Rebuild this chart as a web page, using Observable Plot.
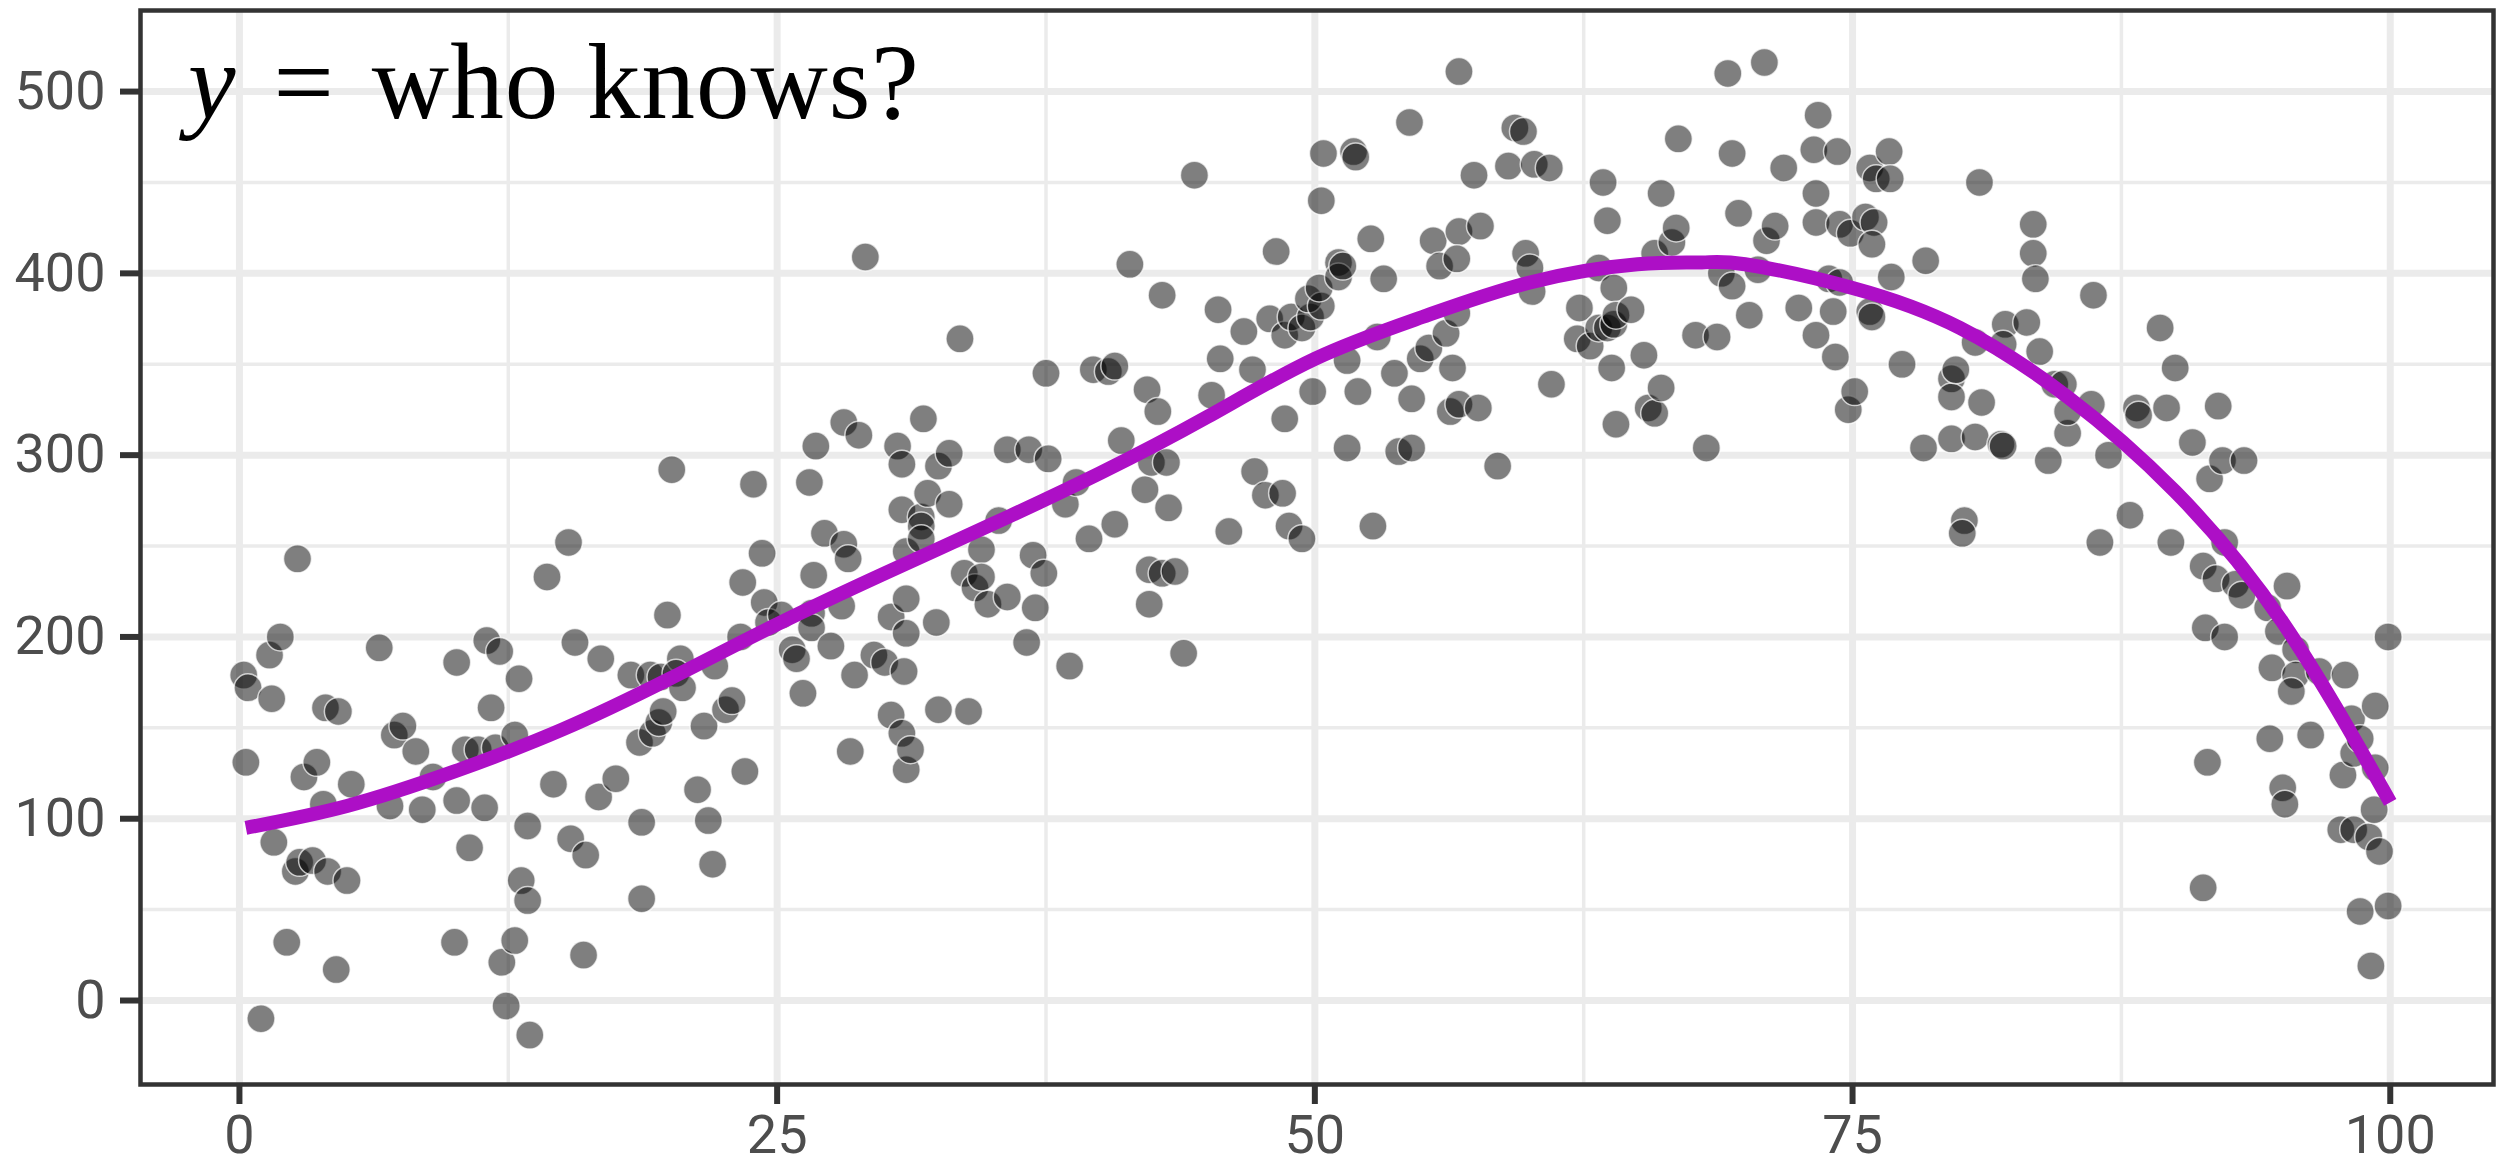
<!DOCTYPE html>
<html>
<head>
<meta charset="utf-8">
<script src="https://cdn.jsdelivr.net/npm/d3@7"></script>
<script src="https://cdn.jsdelivr.net/npm/@observablehq/plot@0.6"></script>
<style>
  html, body { margin: 0; padding: 0; background: white; }
</style>
</head>
<body>
<div id="chart"></div>
<script>
// Scatter of observations with a smoothed trend drawn over it.
const pointX = [
  0.2, 0.4, 0.3, 1, 1.4, 1.5, 1.6, 1.9, 2.2, 2.7, 3, 2.6, 2.8, 3.4, 3.6, 4, 3.9, 4.1, 4.5, 4.6,
  5, 5.2, 6.5, 7, 7.2, 7.6, 8.2, 8.5, 9, 10, 10.1, 10.1, 10.5, 10.7, 11.1, 11.5, 11.4, 11.7, 11.9, 12.1,
  12.2, 12.4, 12.8, 12.8, 13, 13.1, 13.4, 13.4, 13.5, 14.3, 14.6, 15.3, 15.4, 15.6, 16.1, 16, 16.7, 16.8, 17.5, 18.2,
  18.7, 18.7, 18.6, 19.1, 19.2, 19.5, 19.7, 19.6, 19.9, 20.1, 20.5, 20.3, 20.6, 21.3, 21.6, 21.8, 22, 22.1, 22.6, 22.9,
  23.4, 23.5, 23.3, 23.9, 24.3, 24.4, 24.6, 25.2,
  25.7, 25.9, 26.2, 26.7, 26.6, 26.5, 26.8, 26.6, 27.2, 27.5, 28.1, 28.1, 28.3, 28.4, 28, 28.6, 28.8, 29.1, 29.5, 30,
  30.3, 30.3, 30.6, 30.9, 30.8, 30.8, 30.8, 31, 31, 31.2, 31, 31, 31.7, 31.7, 31.8, 31.7, 32, 32.5, 32.4, 32.5,
  33, 33, 33.5, 33.7, 33.9, 34.2, 34.8, 34.5, 34.5, 35.3, 35.7, 35.7, 36.6, 36.7, 36.9, 37.4, 37, 37.5, 37.6, 38.4,
  38.6, 38.9, 39.5, 39.7, 40.4, 40.7, 40.7, 41, 41.4, 42.1, 42.2, 42.3, 42.3, 42.4, 42.7, 42.9, 42.9, 43.1, 43.2, 43.5,
  43.9, 44.4, 45.5, 45.2, 45.6, 46, 46.7, 47.2, 47.1, 47.9, 47.7, 48.2, 48.6, 48.5, 48.6, 48.9, 48.8, 49.4, 49.8, 49.4,
  49.7, 49.9, 50.3,
  50.4, 50.3, 50.2, 51.1, 51.1, 51.3, 51.5, 51.5, 51.8, 51.9, 52, 52.6, 52.7, 52.9, 53.2, 53.7, 53.9, 54.5, 54.4, 54.5,
  54.9, 55.3, 55.5, 55.8, 56.1, 56.4, 56.3, 56.7, 56.6, 56.7, 56.7, 56.6, 57.4, 57.6, 57.7, 58.5, 59, 59.3, 59.7, 59.8,
  60, 60.1, 60.2, 60.9, 61, 62.3, 62.2, 62.8, 63.2, 63.2, 63.4, 63.6, 63.6, 63.9, 63.9, 64, 64, 63.8, 64.7, 65.3,
  65.5, 65.8, 66.1, 65.8, 66.1, 66.6, 66.8, 66.9, 67.7, 68.2, 68.7, 68.9, 69.2, 69.4, 69.4, 69.7, 70.2, 70.6, 71, 70.9,
  71.4, 71.8, 72.5, 73.3, 73.2, 73.3, 73.4, 73.3, 73.9, 74.1, 74.2, 74.3, 74.4, 74.4, 74.8, 74.9, 75.1,
  75.6, 75.8, 76.1, 76, 75.9, 75.8, 75.9, 76.7, 76.75, 76.8, 77.3, 78.3, 78.4, 79.6, 79.6, 79.8, 79.6, 80.2, 80.1, 80.7,
  80.9, 80.7, 81, 81.9, 82.1, 82, 82, 83.1, 83.4, 83.4, 83.5, 83.7, 84.1, 84.4, 84.8, 85, 85, 86.1, 86.2, 86.5,
  86.9, 87.9, 88.2, 88.3, 89.3, 89.6, 89.8, 90, 90.8, 91.3, 91.3, 91.5, 91.6, 91.4, 91.9, 92, 92.2, 92.3, 92.3, 92.8,
  93.1, 93.2, 94.3, 94.4, 94.5, 94.8, 95, 95.1, 95.2, 95.6, 95.6, 95.4, 96.3, 96.7, 97.7, 97.8, 97.9, 98.2, 98.3, 98.3,
  98.6, 98.6, 99, 99.1, 99.25, 99.3, 99.3, 99.5, 99.9, 99.9
];
const pointY = [
  179, 172, 131, -10, 190, 166, 87, 200, 32, 243, 123, 71, 76, 77, 131, 161, 108, 71, 17, 159,
  66, 119, 194, 107, 146, 151, 137, 105, 123, 32, 110, 186, 138, 84, 138, 198, 106, 161, 139, 192,
  21, -3, 33, 146, 177, 66, 55, 96, -19, 233, 119, 252, 89, 197, 80, 25, 112, 188, 122, 179,
  56, 98, 142, 179, 147, 153, 159, 178, 212, 292, 188, 180, 172, 116, 151, 99, 75, 184, 160, 165,
  230, 126, 200, 284, 246, 219, 208, 212,
  193, 188, 169, 234, 213, 285, 305, 205, 257, 195, 251, 318, 243, 137, 217, 179, 311, 409, 190, 186,
  157, 211, 305, 181, 295, 270, 147, 127, 221, 138, 202, 247, 266, 261, 320, 254, 279, 160, 208, 294,
  301, 273, 364, 235, 159, 227, 218, 248, 233, 264, 303, 222, 197, 303, 245, 235, 216, 345, 298, 273,
  184, 285, 254, 347, 346, 349, 262, 308, 405, 281, 336, 218, 237, 296, 324, 235, 388, 296, 271, 236,
  191, 454, 380, 333, 353, 258, 368, 291, 347, 375, 278, 412, 366, 279, 320, 376, 261, 370, 376, 254,
  386, 335, 440,
  466, 382, 392, 406, 398, 404, 352, 304, 467, 464, 335, 419, 261, 365, 397, 345, 302, 304, 483, 331,
  353, 359, 418, 404, 367, 348, 324, 328, 378, 423, 511, 408, 454, 326, 426, 294, 459, 480, 478, 411,
  403, 390, 460, 458, 339, 381, 364, 360, 370, 403, 450, 429, 370, 372, 392, 377, 317, 348, 380, 355,
  326, 323, 337, 411, 444, 417, 425, 474, 366, 304, 365, 400, 510, 393, 466, 433, 377, 402, 418, 516,
  426, 458, 381, 366, 468, 444, 487, 428, 397, 379, 354, 467, 427, 395, 325, 422, 335,
  431, 458, 452, 428, 416, 379, 376, 467, 452, 398, 350, 304, 407, 342, 332, 347, 309, 264, 257, 362,
  450, 310, 329, 306, 372, 305, 361, 373, 427, 411, 397, 357, 297, 339, 339, 312, 324, 328, 388, 252,
  300, 267, 326, 322, 370, 326, 252, 348, 307, 239, 62, 131, 287, 205, 232, 327, 297, 252, 200, 229,
  223, 297, 216, 144, 183, 203, 117, 108, 228, 193, 179, 170, 146, 181, 94, 124, 179, 155, 136, 94,
  144, 49, 90, 19, 105, 162, 128, 82, 200, 52
];

// Smoothed trend through the cloud.
const smoothX = [0.3, 5, 10, 15, 20, 25, 30, 35, 40, 45, 50, 55, 60, 65, 68, 70, 75, 80, 85, 90, 95, 100];
const smoothY = [95, 107, 126, 149, 177, 207, 235, 262, 290, 321, 353, 376, 395, 405, 406, 405, 392, 370, 332, 280, 208, 109];

// Axis ticks and grid.
const xMajor = [0, 25, 50, 75, 100];
const xMinor = [12.5, 37.5, 62.5, 87.5];
const yMajor = [0, 100, 200, 300, 400, 500];
const yMinor = [50, 150, 250, 350, 450];

const points = pointX.map((x, i) => ({x, y: pointY[i]}));
const smooth = smoothX.map((x, i) => ({x, y: smoothY[i]}));

const grid = "#ebebeb";
const ink = "#333333";

const chart = Plot.plot({
  width: 2496,
  height: 1167,
  marginLeft: 140,
  marginRight: 3,
  marginTop: 10,
  marginBottom: 83,
  style: {fontFamily: "Roboto, sans-serif", fontSize: "54px", color: "#4d4d4d", background: "white"},
  x: {domain: [-4.6, 104.8]},
  y: {domain: [-46.2, 544.6]},
  marks: [
    Plot.ruleX(xMinor, {stroke: grid, strokeWidth: 3.5}),
    Plot.ruleY(yMinor, {stroke: grid, strokeWidth: 3.5}),
    Plot.ruleX(xMajor, {stroke: grid, strokeWidth: 7}),
    Plot.ruleY(yMajor, {stroke: grid, strokeWidth: 7}),
    Plot.dot(points, {x: "x", y: "y", r: 14, fill: "black", fillOpacity: 0.5,
      stroke: "white", strokeWidth: 1.5, strokeOpacity: 0.7}),
    Plot.line(smooth, {x: "x", y: "y", stroke: "#ad0fc6", strokeWidth: 14,
      curve: "natural", strokeLinecap: "butt"}),
    Plot.frame({stroke: ink, strokeWidth: 4.5}),
    Plot.axisX({ticks: xMajor, tickSize: 20, tickPadding: 10, stroke: ink, strokeWidth: 6,
      fill: "#4d4d4d", fontSize: 54, label: null}),
    Plot.axisY({ticks: yMajor, tickSize: 20, tickPadding: 15, stroke: ink, strokeWidth: 6,
      fill: "#4d4d4d", fontSize: 54, label: null})
  ]
});

// Heading set in the panel's top-left corner, with an italic variable name.
const heading = d3.select(chart).append("text")
  .attr("x", 188)
  .attr("y", 118)
  .attr("text-anchor", "start")
  .attr("font-family", "'Liberation Serif', 'DejaVu Serif', serif")
  .attr("font-size", 107)
  .attr("fill", "black");
heading.append("tspan").attr("font-style", "italic").text("y");
heading.append("tspan").attr("dx", 38).text("=");
heading.append("tspan").attr("dx", 38).attr("letter-spacing", 1).text("who knows?");

document.getElementById("chart").appendChild(chart);
</script>
</body>
</html>
